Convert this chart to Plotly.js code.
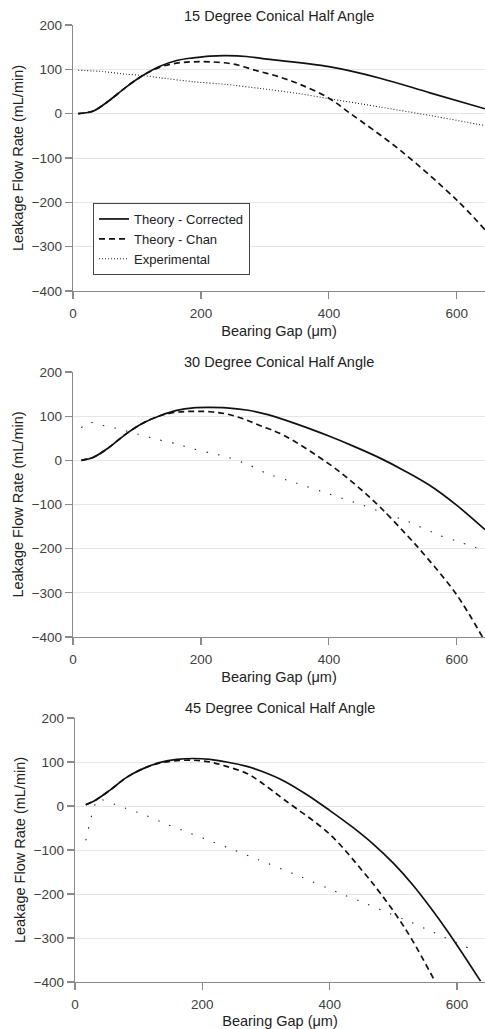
<!DOCTYPE html>
<html>
<head>
<meta charset="utf-8">
<script src="https://cdn.plot.ly/plotly-3.0.1.min.js"></script>
<style>html,body{margin:0;padding:0;background:#fff;}#chart{width:485px;height:1029px;}</style>
</head>
<body>
<div id="chart"></div>
<script>
// ---- Data ----
const titles = ["15 Degree Conical Half Angle", "30 Degree Conical Half Angle", "45 Degree Conical Half Angle"];
const seriesNames = ["Theory - Corrected", "Theory - Chan", "Experimental"];
const xTickVals = [0, 200, 400, 600];
const yTickVals = [-400, -300, -200, -100, 0, 100, 200];

// 15 degree
const gap15Corr = [8, 20, 32, 57, 83, 109, 136, 162, 188, 214, 240, 271, 303, 400, 480, 558, 644];
const flow15Corr = [0, 2, 6, 30, 60, 86, 107, 120, 126, 130, 131, 129, 123, 106, 80, 47, 11];
const gap15Chan = [8, 20, 32, 57, 83, 109, 136, 162, 188, 214, 250, 287, 320, 355, 400, 433, 511, 600, 644];
const flow15Chan = [0, 2, 6, 30, 60, 86, 105, 114, 117, 117, 112, 97, 84, 66, 35, 1, -82, -195, -262];
const gap15Exp = [8, 47, 83, 109, 136, 188, 240, 292, 350, 400, 480, 558, 644];
const flow15Exp = [98, 95, 89, 86, 81, 72, 66, 57, 46, 34, 15, -4, -27];

// 30 degree
const gap30Corr = [13, 32, 57, 83, 109, 136, 162, 188, 214, 240, 271, 303, 350, 400, 440, 480, 520, 558, 600, 644];
const flow30Corr = [0, 7, 30, 60, 84, 101, 113, 119, 120, 119, 114, 104, 82, 55, 31, 5, -25, -57, -102, -157];
const gap30Chan = [13, 32, 57, 83, 109, 136, 162, 188, 214, 240, 266, 292, 329, 400, 443, 480, 521, 553, 600, 640];
const flow30Chan = [0, 7, 30, 60, 84, 101, 109, 111, 110, 105, 94, 79, 57, -8, -57, -106, -168, -220, -305, -400];
const gap30Exp = [13, 26, 37, 50, 77, 102, 133, 160, 188, 214, 240, 276, 303, 350, 400, 446, 482, 521, 573, 600, 641];
const flow30Exp = [74, 87, 81, 78, 69, 59, 47, 38, 26, 17, 8, -11, -30, -52, -76, -98, -117, -137, -170, -183, -203];

// 45 degree
const gap45Corr = [17, 34, 55, 81, 107, 134, 160, 186, 212, 238, 270, 291, 328, 365, 400, 435, 468, 500, 531, 560, 583, 610, 637];
const flow45Corr = [3, 15, 36, 65, 85, 99, 106, 108, 106, 100, 90, 80, 57, 25, -10, -47, -86, -130, -180, -234, -280, -338, -398];
const gap45Chan = [17, 34, 55, 81, 107, 134, 160, 186, 212, 238, 270, 291, 328, 400, 453, 479, 505, 529, 566];
const flow45Chan = [3, 15, 36, 65, 85, 98, 103, 104, 100, 90, 74, 55, 15, -64, -150, -197, -249, -303, -400];
const gap45Exp = [17, 36, 71, 107, 143, 179, 215, 251, 288, 350, 412, 449, 485, 521, 557, 575, 610, 629];
const flow45Exp = [-78, 15, -1, -19, -41, -61, -81, -101, -122, -158, -196, -217, -239, -260, -283, -295, -318, -329];

// ---- Build ----
const FONT = "Liberation Sans, Arial, sans-serif";
const panels = [
  {corr:[gap15Corr, flow15Corr], chan:[gap15Chan, flow15Chan], exp:[gap15Exp, flow15Exp], dot:"1px,2px"},
  {corr:[gap30Corr, flow30Corr], chan:[gap30Chan, flow30Chan], exp:[gap30Exp, flow30Exp], dot:"1.4px,10.5px"},
  {corr:[gap45Corr, flow45Corr], chan:[gap45Chan, flow45Chan], exp:[gap45Exp, flow45Exp], dot:"1.4px,10.5px"}
];

const traces = [];
panels.forEach((p, i) => {
  const xa = i === 0 ? 'x' : 'x' + (i + 1);
  const ya = i === 0 ? 'y' : 'y' + (i + 1);
  traces.push({x: p.corr[0], y: p.corr[1], xaxis: xa, yaxis: ya, mode: 'lines', name: seriesNames[0],
    line: {color: '#111', width: 1.7, shape: 'spline', smoothing: 1}, showlegend: i === 0});
  traces.push({x: p.chan[0], y: p.chan[1], xaxis: xa, yaxis: ya, mode: 'lines', name: seriesNames[1],
    line: {color: '#111', width: 1.7, dash: '6px,4px', shape: 'spline', smoothing: 1}, showlegend: i === 0});
  traces.push({x: p.exp[0], y: p.exp[1], xaxis: xa, yaxis: ya, mode: 'lines', name: seriesNames[2],
    line: {color: '#222', width: 1.1, dash: p.dot, shape: 'spline', smoothing: 0.5}, showlegend: i === 0});
});

const H = 1029, W = 485;
const yDomPx = [[25, 291], [372, 637], [718, 982]];
const xLeftPx = [73, 73, 75];
const titleYPx = [16, 362, 708];

function xaxisDef(i) {
  return {
    domain: [xLeftPx[i] / W, 1], range: [0, 644], tickvals: xTickVals, ticktext: xTickVals.map(String),
    showgrid: false, zeroline: false, showline: true, linecolor: '#8a8a8a', linewidth: 1.2,
    ticks: 'outside', ticklen: 7, tickcolor: '#8a8a8a', tickwidth: 1.2, ticklabelstandoff: 3,
    tickfont: {family: FONT, size: 13.5, color: '#404040'},
    title: {text: 'Bearing Gap (μm)', font: {family: FONT, size: 14.5, color: '#222'}, standoff: 5},
    anchor: i === 0 ? 'y' : 'y' + (i + 1), fixedrange: true
  };
}
function yaxisDef(i) {
  return {
    domain: [1 - yDomPx[i][1] / H, 1 - yDomPx[i][0] / H], range: [-400, 200], tickvals: yTickVals,
    showgrid: true, gridcolor: '#e6e6e6', gridwidth: 1, zeroline: false,
    showline: true, linecolor: '#8a8a8a', linewidth: 1.2,
    ticks: 'outside', ticklen: 7, tickcolor: '#8a8a8a', tickwidth: 1.2,
    tickfont: {family: FONT, size: 13.5, color: '#404040'},
    title: {text: 'Leakage Flow Rate (mL/min)', font: {family: FONT, size: 14.5, color: '#222'}, standoff: 4},
    anchor: i === 0 ? 'x' : 'x' + (i + 1), fixedrange: true
  };
}

const layout = {
  width: W, height: H, margin: {l: 0, r: 0, t: 0, b: 0},
  paper_bgcolor: '#fff', plot_bgcolor: '#fff',
  font: {family: FONT, color: '#222'},
  xaxis: xaxisDef(0), xaxis2: xaxisDef(1), xaxis3: xaxisDef(2),
  yaxis: yaxisDef(0), yaxis2: yaxisDef(1), yaxis3: yaxisDef(2),
  legend: {x: 93 / W, y: 1 - 203 / H, xanchor: 'left', yanchor: 'top', bgcolor: '#fff',
    bordercolor: '#444', borderwidth: 1, font: {family: FONT, size: 13, color: '#222'},
    tracegroupgap: 0, itemwidth: 30},
  annotations: titles.map((t, i) => ({
    text: t, xref: 'paper', yref: 'paper', x: (xLeftPx[i] + W) / 2 / W, y: 1 - titleYPx[i] / H,
    xanchor: 'center', yanchor: 'middle', showarrow: false, font: {family: FONT, size: 14.5, color: '#222'}
  })),
  showlegend: true
};

Plotly.newPlot('chart', traces, layout, {displayModeBar: false, staticPlot: true});
</script>
</body>
</html>
